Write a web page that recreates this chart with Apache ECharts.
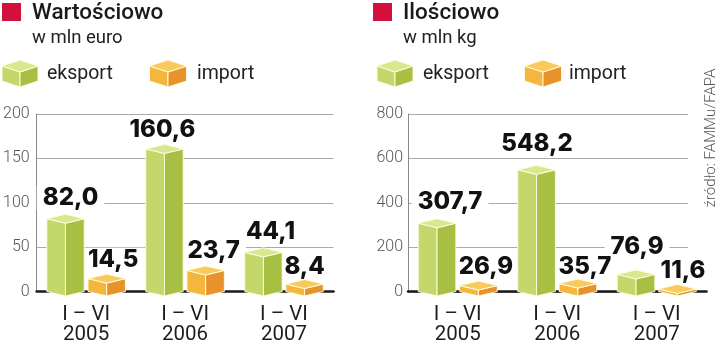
<!DOCTYPE html>
<html>
<head>
<meta charset="utf-8">
<script src="https://cdn.jsdelivr.net/npm/echarts@6/dist/echarts.min.js"></script>
<style>
html,body{margin:0;padding:0;background:#fff;}
#c{width:720px;height:345px;}
</style>
</head>
<body>
<div id="c"></div>
<script>
// ---- data ----
const categories = ['I – VI\n2005', 'I – VI\n2006', 'I – VI\n2007'];
const valueExport = [82.0, 160.6, 44.1];   // w mln euro
const valueImport = [14.5, 23.7, 8.4];
const volumeExport = [307.7, 548.2, 76.9]; // w mln kg
const volumeImport = [26.9, 35.7, 11.6];
const valueTicks = [0, 50, 100, 150, 200];
const volumeTicks = [0, 200, 400, 600, 800];
const seriesNames = ['eksport', 'import'];

// ---- layout / style (not data) ----
const labelNudge = {
  valExp: [[5, -20.5], [-2, -19], [7, -20.3]],
  valImp: [[6.5, -19], [8, -19.4], [0, -17]],
  volExp: [[13, -21], [0.5, -26], [1, -27.4]],
  volImp: [[7.5, -19], [7, -17], [5.5, -18.4]]
};
const EXP = {left: '#c3d76b', right: '#a7bf43', top: '#d9e78f'};
const IMP = {left: '#f4b63c', right: '#e8922b', top: '#f8ca5c'};
const EDGE = 'rgba(255,252,225,0.95)';
const FONT = 'Roboto, "Open Sans", sans-serif';

function boxShapes(cx, w, d, yv, y0, col) {
  return [
    {type: 'polygon', shape: {points: [[cx - w, yv], [cx, yv + d], [cx, y0 + d], [cx - w, y0]]},
      style: {fill: col.left, stroke: EDGE, lineWidth: 1}},
    {type: 'polygon', shape: {points: [[cx, yv + d], [cx + w, yv], [cx + w, y0], [cx, y0 + d]]},
      style: {fill: col.right, stroke: EDGE, lineWidth: 1}},
    {type: 'polygon', shape: {points: [[cx - w, yv], [cx, yv - d], [cx + w, yv], [cx, yv + d]]},
      style: {fill: col.top, stroke: EDGE, lineWidth: 1}}
  ];
}

function boxRenderer(col, side) {
  return function (params, api) {
    const idx = api.value(0), val = api.value(1);
    const base = api.coord([idx, 0]);
    const top = api.coord([idx, val]);
    const bw = api.size([1, 0])[0];
    const cx = base[0] + side * bw * 0.208;
    const w = bw * 0.189;
    return {type: 'group', children: boxShapes(cx, w, 4.5, top[1], base[1], col)};
  };
}

function labelRenderer(side, nudge) {
  return function (params, api) {
    const idx = api.value(0), val = api.value(1);
    const base = api.coord([idx, 0]);
    const top = api.coord([idx, val]);
    const bw = api.size([1, 0])[0];
    const cx = base[0] + side * bw * 0.208;
    const n = nudge[params.dataIndex];
    return {
      type: 'text',
      style: {
        text: val.toFixed(1).replace('.', ','),
        x: cx + n[0], y: top[1] + n[1],
        align: 'center', verticalAlign: 'middle',
        font: '800 24px Inter, Roboto, sans-serif',
        fill: '#111',
        backgroundColor: '#fff',
        padding: [0, 6]
      }
    };
  };
}

function toData(arr) { return arr.map((v, i) => [i, v]); }

const yLabel = {color: '#555', fontSize: 16, fontWeight: 300, fontFamily: FONT};
const splitStyle = {lineStyle: {color: '#aaa', width: 1}};

const option = {
  animation: false,
  backgroundColor: '#fff',
  grid: [
    {left: 35, top: 114, width: 298.5, height: 178},
    {left: 408, top: 114, width: 298.5, height: 178},
    {left: 408, top: 114, width: 280, height: 178}
  ],
  xAxis: [0, 1].map(g => ({
    type: 'category', gridIndex: g, data: categories,
    axisLine: {show: true, onZero: true, lineStyle: {color: '#1a1a1a', width: 2.5}},
    axisTick: {show: false},
    axisLabel: {color: '#1e1e1e', fontSize: 20.5, lineHeight: 20, fontFamily: FONT, margin: 13}
  })).concat([{
    type: 'category', gridIndex: 2, data: categories, show: false
  }]),
  yAxis: [
    {type: 'value', gridIndex: 0, min: valueTicks[0], max: valueTicks[valueTicks.length - 1],
      interval: valueTicks[1] - valueTicks[0],
      axisLine: {show: true, lineStyle: {color: '#888', width: 1}}, axisTick: {show: false},
      axisLabel: Object.assign({margin: 7}, yLabel), splitLine: splitStyle},
    {type: 'value', gridIndex: 1, min: volumeTicks[0], max: volumeTicks[volumeTicks.length - 1],
      interval: volumeTicks[1] - volumeTicks[0],
      axisLine: {show: true, lineStyle: {color: '#888', width: 1}}, axisTick: {show: false},
      axisLabel: Object.assign({margin: 5}, yLabel), splitLine: {show: false}},
    {type: 'value', gridIndex: 2, min: volumeTicks[0], max: volumeTicks[volumeTicks.length - 1],
      interval: volumeTicks[1] - volumeTicks[0],
      axisLine: {show: false}, axisTick: {show: false}, axisLabel: {show: false},
      splitLine: splitStyle}
  ],
  series: [
    {type: 'custom', name: seriesNames[0], xAxisIndex: 0, yAxisIndex: 0, z: 3,
      data: toData(valueExport), encode: {x: 0, y: 1}, renderItem: boxRenderer(EXP, -1)},
    {type: 'custom', name: seriesNames[1], xAxisIndex: 0, yAxisIndex: 0, z: 3,
      data: toData(valueImport), encode: {x: 0, y: 1}, renderItem: boxRenderer(IMP, 1)},
    {type: 'custom', xAxisIndex: 0, yAxisIndex: 0, z: 2,
      data: toData(valueExport), encode: {x: 0, y: 1}, renderItem: labelRenderer(-1, labelNudge.valExp)},
    {type: 'custom', xAxisIndex: 0, yAxisIndex: 0, z: 2,
      data: toData(valueImport), encode: {x: 0, y: 1}, renderItem: labelRenderer(1, labelNudge.valImp)},
    {type: 'custom', name: seriesNames[0], xAxisIndex: 1, yAxisIndex: 1, z: 3,
      data: toData(volumeExport), encode: {x: 0, y: 1}, renderItem: boxRenderer(EXP, -1)},
    {type: 'custom', name: seriesNames[1], xAxisIndex: 1, yAxisIndex: 1, z: 3,
      data: toData(volumeImport), encode: {x: 0, y: 1}, renderItem: boxRenderer(IMP, 1)},
    {type: 'custom', xAxisIndex: 1, yAxisIndex: 1, z: 2,
      data: toData(volumeExport), encode: {x: 0, y: 1}, renderItem: labelRenderer(-1, labelNudge.volExp)},
    {type: 'custom', xAxisIndex: 1, yAxisIndex: 1, z: 2,
      data: toData(volumeImport), encode: {x: 0, y: 1}, renderItem: labelRenderer(1, labelNudge.volImp)}
  ],
  graphic: []
};

// header graphics (titles + legend)
function header(x0, title, sub, sqX, iconE, iconI, txtE, txtI) {
  const g = [];
  g.push({type: 'rect', shape: {x: sqX, y: 3, width: 19, height: 18}, style: {fill: '#d3103d'}});
  g.push({type: 'text', style: {text: title, x: x0, y: 13.5, verticalAlign: 'middle',
    font: '500 22.5px ' + FONT, fill: '#1a1a1a'}});
  g.push({type: 'text', style: {text: sub, x: x0, y: 38.5, verticalAlign: 'middle',
    font: '18.5px ' + FONT, fill: '#222'}});
  boxShapes(iconE, 18, 6, 66, 81, EXP).forEach(s => g.push(s));
  boxShapes(iconI, 18.5, 6, 66, 81, IMP).forEach(s => g.push(s));
  g.push({type: 'text', style: {text: seriesNames[0], x: txtE, y: 74.5, verticalAlign: 'middle',
    font: '19.5px ' + FONT, fill: '#222'}});
  g.push({type: 'text', style: {text: seriesNames[1], x: txtI, y: 74.5, verticalAlign: 'middle',
    font: '19.5px ' + FONT, fill: '#222'}});
  return g;
}
option.graphic = header(32, 'Wartościowo', 'w mln euro', 2, 20, 168, 47, 197)
  .concat(header(403, 'Ilościowo', 'w mln kg', 373, 395, 543, 423, 569))
  .concat([{type: 'text', x: 711, y: 138, rotation: Math.PI / 2,
    style: {text: 'źródło: FAMMu/FAPA', x: 0, y: 0, align: 'center', verticalAlign: 'middle',
      font: '300 15px ' + FONT, fill: '#555'}}]);

const chart = echarts.init(document.getElementById('c'), null, {renderer: 'canvas'});
chart.setOption(option);
</script>
</body>
</html>
